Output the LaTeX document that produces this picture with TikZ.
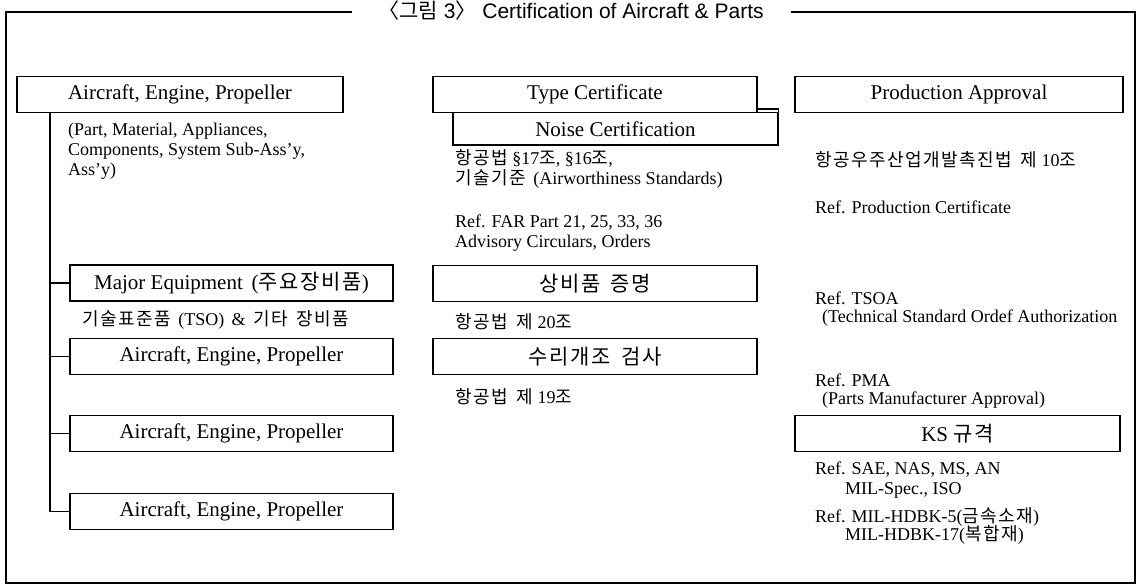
\documentclass[tikz,border=0pt]{standalone}
\usepackage{fontspec}
\setmainfont{Liberation Serif}
\newfontfamily\kr[Scale=1.0,LetterSpace=8,WordSpace=1.6]{Noto Sans CJK KR}
\newfontfamily\titlefont{Liberation Sans}
\newfontfamily\krtitle{Noto Sans CJK KR}
\begin{document}
\begin{tikzpicture}[x=1pt,y=-1pt,
  frame/.style={line width=1.2pt},
  conn/.style={line width=1.1pt},
  box/.style={draw,line width=1.2pt,inner sep=0pt,minimum height=36pt,font=\fontsize{21}{24}\selectfont},
  note/.style={anchor=west,inner sep=0pt,align=left,font=\fontsize{18}{20}\selectfont}]
\useasboundingbox (0,0) rectangle (1143,586);
% frame
\node[inner sep=0pt,font=\titlefont\fontsize{21}{24}\selectfont] (title) at (571,11) {{\krtitle 〈그림} 3{\krtitle 〉} Certification of Aircraft \& Parts};
\coordinate (tl) at (6,12);
\coordinate (tr) at (1135,12);
\coordinate (bl) at (6,583);
\coordinate (br) at (1135,583);
\coordinate (g1) at (352,12);
\coordinate (g2) at (791,12);
\draw[frame] (g1) -- (tl) -- (bl) -- (br) -- (tr) -- (g2);
% left column
\node[box,minimum width=326pt] (a1) at (180,94.5) {Aircraft, Engine, Propeller};
\node[note] (a1n) at (68,151) {(Part, Material, Appliances,\\Components, System Sub-Ass'y,\\Ass'y)};
\node[box,minimum width=323pt] (eq) at (231.5,283) {Major Equipment \,({\kr 주요장비품})};
\node[note] (eqn) at (82,320) {{\kr 기술표준품} \,(TSO) \,\& \,{\kr 기타 장비품}};
\node[box,minimum width=323pt] (a2) at (231.5,356.5) {Aircraft, Engine, Propeller};
\node[box,minimum width=323pt] (a3) at (231.5,433.5) {Aircraft, Engine, Propeller};
\node[box,minimum width=323pt] (a4) at (231.5,511.5) {Aircraft, Engine, Propeller};
\coordinate (vx) at (50,0);
\draw[conn] (a1.south -| vx) -- (vx |- a4.west) -- (a4.west);
\draw[conn] (vx |- eq.west) -- (eq.west);
\draw[conn] (vx |- a2.west) -- (a2.west);
\draw[conn] (vx |- a3.west) -- (a3.west);
% center column
\node[box,minimum width=324pt] (tc) at (595,94.5) {Type Certificate};
\node[box,minimum width=325pt,minimum height=32.5pt] (nc) at (615.5,128.75) {Noise Certification};
\coordinate (tcb) at (757,109);
\draw[conn] (tcb) -| (nc.north east);
\node[note] (tcn1) at (455,168.5) {{\kr 항공법} §17{\kr 조}, §16{\kr 조},\\{\kr 기술기준} \,(Airworthiness Standards)};
\node[note] (tcn2) at (455,233) {Ref. FAR Part 21, 25, 33, 36\\Advisory Circulars, Orders};
\node[box,minimum width=324pt] (sb) at (595,283.5) {\kr 상비품 증명};
\node[note] (sbn) at (455,322) {{\kr 항공법 제} 20{\kr 조}};
\node[box,minimum width=324pt] (rp) at (595,356.5) {\kr 수리개조 검사};
\node[note] (rpn) at (455,397) {{\kr 항공법 제} 19{\kr 조}};
% right column
\node[box,minimum width=328pt] (pa) at (959,94.5) {Production Approval};
\node[note] (pan1) at (815,160) {{\kr 항공우주산업개발촉진법 제} 10{\kr 조}};
\node[note] (pan2) at (815,207) {Ref. Production Certificate};
\node[note] (pan3) at (815,298) {Ref. TSOA};
\node[note] (pan4) at (822,318) {(Technical Standard Ordef Authorization};
\node[note] (pan5) at (815,380) {Ref. PMA};
\node[note] (pan6) at (822,400) {(Parts Manufacturer Approval)};
\node[box,minimum width=325pt] (ks) at (957.5,433.5) {KS {\kr 규격}};
\node[note] (ksn1) at (815,470) {Ref. SAE, NAS, MS, AN};
\node[note] (ksn2) at (845,490) {MIL-Spec., ISO};
\node[note] (ksn3) at (815,517) {Ref. MIL-HDBK-5({\kr 금속소재})};
\node[note] (ksn4) at (845,535) {MIL-HDBK-17({\kr 복합재})};
\end{tikzpicture}
\end{document}
